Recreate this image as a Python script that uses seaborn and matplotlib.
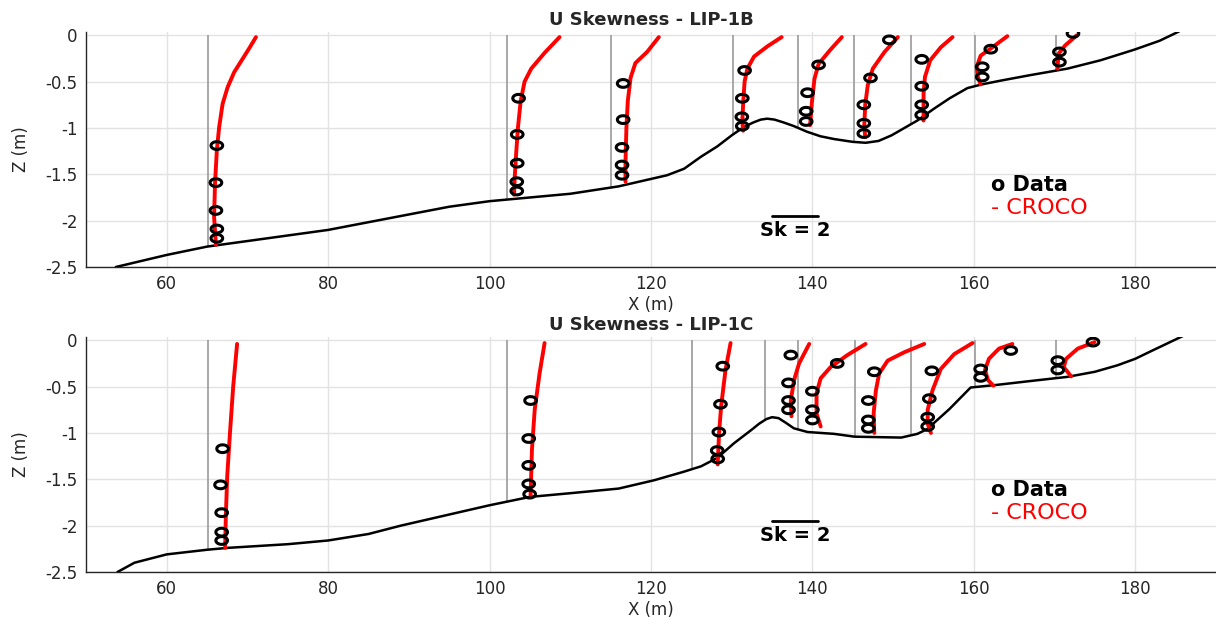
import numpy as np
import pandas as pd
import matplotlib
matplotlib.use("Agg")
import matplotlib.pyplot as plt
from matplotlib.path import Path
from matplotlib.markers import MarkerStyle
import seaborn as sns

# metres of cross-shore distance per unit of skewness (scale bar: Sk = 2)
SK_SCALE = 2.85

x_ticks = [60, 80, 100, 120, 140, 160, 180]
y_ticks = [-2.5, -2, -1.5, -1, -0.5, 0]
y_tick_labels = ["-2.5", "-2", "-1.5", "-1", "-0.5", "0"]

# ---- LIP-1B ----
bed_x_1b = [53.7, 60, 65, 70, 80, 89, 95, 100, 110, 116, 120, 122, 124.1, 126.2, 128.2,
            130, 131.5, 132.7, 133.6, 134.4, 135.3, 136.4, 137.7, 139.3, 141, 142.7, 145,
            146.6, 148.2, 149.8, 151, 153, 155.1, 157, 159.2, 161, 163.3, 167, 171.6,
            175.7, 179.9, 183, 185.4]
bed_z_1b = [-2.50, -2.37, -2.28, -2.22, -2.10, -1.95, -1.85, -1.79, -1.71, -1.63, -1.55,
            -1.51, -1.44, -1.31, -1.20, -1.08, -0.99, -0.94, -0.91, -0.90, -0.91, -0.94,
            -0.98, -1.04, -1.09, -1.12, -1.15, -1.16, -1.14, -1.08, -1.02, -0.92, -0.79,
            -0.68, -0.57, -0.53, -0.49, -0.43, -0.36, -0.27, -0.155, -0.06, 0.04]
stations_1b = [65.1, 102.2, 115.1, 130.2, 138.2, 145.2, 152.2, 160.1, 170.2]
model_z_1b = [
    [-0.02, -0.14, -0.40, -0.56, -0.74, -0.99, -1.24, -1.60, -1.96, -2.26],
    [-0.02, -0.19, -0.36, -0.50, -0.71, -1.00, -1.29, -1.54, -1.72],
    [-0.02, -0.18, -0.30, -0.46, -0.71, -1.00, -1.36, -1.58],
    [-0.02, -0.12, -0.23, -0.36, -0.50, -0.72, -0.93, -1.03],
    [-0.02, -0.16, -0.31, -0.47, -0.72, -0.97],
    [-0.02, -0.18, -0.36, -0.54, -0.75, -0.97, -1.10],
    [-0.02, -0.13, -0.27, -0.45, -0.63, -0.92],
    [-0.01, -0.13, -0.22, -0.34, -0.45, -0.53],
    [0.0, -0.11, -0.20, -0.36],
]
model_sk_1b = [
    [2.09, 1.80, 1.14, 0.86, 0.64, 0.49, 0.39, 0.31, 0.27, 0.35],
    [2.27, 1.62, 1.04, 0.75, 0.58, 0.46, 0.38, 0.32, 0.29],
    [2.06, 1.55, 1.04, 0.83, 0.71, 0.65, 0.61, 0.61],
    [2.10, 1.48, 0.90, 0.61, 0.49, 0.43, 0.39, 0.43],
    [1.91, 1.40, 0.90, 0.72, 0.61, 0.53],
    [1.89, 1.31, 0.80, 0.58, 0.47, 0.43, 0.47],
    [1.81, 1.30, 0.84, 0.61, 0.55, 0.55],
    [1.42, 0.77, 0.26, 0.09, 0.14, 0.26],
    [0.90, 0.39, 0.10, 0.06],
]
data_z_1b = [
    [-1.19, -1.59, -1.89, -2.09, -2.19],
    [-0.68, -1.07, -1.38, -1.58, -1.68],
    [-0.52, -0.91, -1.21, -1.40, -1.51],
    [-0.38, -0.68, -0.88, -0.98],
    [-0.32, -0.62, -0.82, -0.93],
    [-0.05, -0.46, -0.75, -0.95, -1.06],
    [-0.26, -0.55, -0.75, -0.86],
    [-0.15, -0.34, -0.45],
    [0.02, -0.18, -0.29],
]
data_sk_1b = [
    [0.39, 0.35, 0.35, 0.39, 0.39],
    [0.49, 0.43, 0.43, 0.41, 0.41],
    [0.51, 0.51, 0.46, 0.46, 0.46],
    [0.49, 0.39, 0.37, 0.39],
    [0.90, 0.42, 0.36, 0.36],
    [1.52, 0.70, 0.41, 0.41, 0.41],
    [0.47, 0.47, 0.47, 0.47],
    [0.70, 0.33, 0.33],
    [0.73, 0.14, 0.14],
]

# ---- LIP-1C ----
bed_x_1c = [53.9, 56, 60, 65, 67.5, 75, 80, 85, 89, 95, 100, 105, 110, 116, 120.4, 124,
            126.2, 128.2, 130.3, 132.4, 133.4, 134.3, 135, 135.8, 136.7, 137.7, 139.4,
            142.7, 145.2, 151, 153, 154.2, 157, 159.6, 163, 167, 171.6, 175, 177.8, 180,
            181.9, 186]
bed_z_1c = [-2.50, -2.40, -2.31, -2.26, -2.24, -2.20, -2.16, -2.09, -2.00, -1.88, -1.78,
            -1.69, -1.65, -1.60, -1.51, -1.42, -1.36, -1.27, -1.11, -0.97, -0.90, -0.85,
            -0.83, -0.84, -0.89, -0.95, -0.99, -1.01, -1.04, -1.05, -1.01, -0.96, -0.74,
            -0.51, -0.48, -0.44, -0.395, -0.34, -0.27, -0.20, -0.12, 0.05]
stations_1c = [65.1, 102.2, 125.1, 134.1, 138.2, 145.3, 152.2, 160.1, 170.2]
model_z_1c = [
    [-0.04, -0.50, -1.00, -1.47, -1.90, -2.24],
    [-0.03, -0.36, -0.75, -1.18, -1.68],
    [-0.03, -0.32, -0.71, -1.00, -1.34],
    [-0.04, -0.25, -0.43, -0.65, -0.82],
    [-0.04, -0.16, -0.29, -0.41, -0.57, -0.79, -0.93],
    [-0.04, -0.13, -0.22, -0.36, -0.54, -0.79, -1.00],
    [-0.03, -0.15, -0.31, -0.54, -0.75, -0.90, -1.00],
    [-0.04, -0.09, -0.20, -0.32, -0.43, -0.49],
    [-0.02, -0.09, -0.20, -0.29, -0.39],
]
model_sk_1c = [
    [1.27, 1.10, 0.96, 0.84, 0.78, 0.75],
    [1.62, 1.40, 1.19, 1.07, 1.01],
    [1.67, 1.45, 1.26, 1.17, 1.11],
    [1.93, 1.49, 1.27, 1.13, 1.16],
    [2.94, 2.15, 1.42, 0.99, 0.81, 0.81, 0.99],
    [3.00, 2.13, 1.41, 1.04, 0.90, 0.80, 0.83],
    [2.68, 1.88, 1.30, 0.94, 0.73, 0.73, 0.87],
    [1.64, 1.06, 0.62, 0.45, 0.58, 0.81],
    [1.67, 0.94, 0.43, 0.33, 0.65],
]
data_z_1c = [
    [-1.17, -1.56, -1.86, -2.07, -2.16],
    [-0.65, -1.06, -1.35, -1.55, -1.66],
    [-0.28, -0.69, -0.99, -1.19, -1.28],
    [-0.16, -0.46, -0.65, -0.75],
    [-0.25, -0.55, -0.75, -0.86],
    [-0.34, -0.65, -0.86, -0.95],
    [-0.33, -0.63, -0.83, -0.93],
    [-0.11, -0.31, -0.40],
    [-0.02, -0.22, -0.32],
]
data_sk_1c = [
    [0.64, 0.55, 0.60, 0.60, 0.60],
    [1.01, 0.93, 0.93, 0.93, 0.97],
    [1.33, 1.23, 1.16, 1.09, 1.11],
    [1.13, 1.03, 1.03, 1.03],
    [1.71, 0.63, 0.63, 0.63],
    [0.83, 0.57, 0.57, 0.57],
    [0.91, 0.80, 0.73, 0.73],
    [1.57, 0.26, 0.26],
    [1.60, 0.07, 0.07],
]


def profiles_frame(stations, zs, sks):
    rows = []
    for i, (x0, z, sk) in enumerate(zip(stations, zs, sks)):
        for zz, ss in zip(z, sk):
            rows.append({"station": i, "x": x0 + SK_SCALE * ss, "z": zz})
    return pd.DataFrame(rows)


# circles look stretched sideways in the original figure
t = np.linspace(0, 2 * np.pi, 60)
ellipse = MarkerStyle(Path(np.column_stack([1.5 * np.cos(t), np.sin(t)]), closed=True))


def plot_panel(ax, title, stations, bed_x, bed_z, mz, msk, dz, dsk):
    bed_at = np.interp(stations, bed_x, bed_z)
    ax.vlines(stations, bed_at, 0, color="#9a9a9a", lw=1.2, zorder=2)

    sns.lineplot(x=bed_x, y=bed_z, color="black", lw=1.8, sort=False,
                 estimator=None, ax=ax, zorder=3)

    df_mod = profiles_frame(stations, mz, msk)
    sns.lineplot(data=df_mod, x="x", y="z", units="station", estimator=None,
                 sort=False, color="red", lw=2.8, ax=ax, zorder=4)

    df_dat = profiles_frame(stations, dz, dsk)
    sns.scatterplot(data=df_dat, x="x", y="z", marker=ellipse, s=70,
                    facecolor="none", edgecolor="black", linewidth=2.2,
                    ax=ax, zorder=5)

    # scale bar
    ax.plot([135, 135 + 2 * SK_SCALE], [-1.95, -1.95], color="black", lw=2, zorder=4)
    ax.text(135 + SK_SCALE, -2.11, "Sk = 2", ha="center", va="center",
            fontsize=14, fontweight="bold", color="black")

    ax.text(162.1, -1.62, "o Data", ha="left", va="center", fontsize=15,
            fontweight="bold", color="black")
    ax.text(162.1, -1.86, "- CROCO", ha="left", va="center", fontsize=16,
            color="red")

    ax.set_xlim(50, 190)
    ax.set_ylim(-2.5, 0.035)
    ax.set_xticks(x_ticks)
    ax.set_yticks(y_ticks)
    ax.set_yticklabels(y_tick_labels)
    ax.grid(True, color="#e2e2e2", lw=1)
    ax.set_axisbelow(True)
    ax.tick_params(direction="in", length=8, width=1, colors="#262626",
                   labelsize=12, pad=6)
    for side in ["top", "right"]:
        ax.spines[side].set_visible(False)
    for side in ["left", "bottom"]:
        ax.spines[side].set_color("#262626")
        ax.spines[side].set_linewidth(1)
    ax.set_xlabel("X (m)", fontsize=12, color="#262626")
    ax.set_ylabel("Z (m)", fontsize=12, color="#262626")
    ax.xaxis.set_label_coords(0.5, -0.125)
    ax.yaxis.set_label_coords(-0.05, 0.5)
    ax.set_title(title, fontsize=13, fontweight="bold", pad=5)


sns.set_style("white")
plt.rcParams["font.family"] = ["DejaVu Sans"]

fig = plt.figure(figsize=(12.16, 6.2), dpi=100)
ax1 = fig.add_axes([86 / 1216, 1 - 267 / 620, 1130 / 1216, 235 / 620])
ax2 = fig.add_axes([86 / 1216, 1 - 572 / 620, 1130 / 1216, 235 / 620])

plot_panel(ax1, "U Skewness - LIP-1B", stations_1b, bed_x_1b, bed_z_1b,
           model_z_1b, model_sk_1b, data_z_1b, data_sk_1b)
plot_panel(ax2, "U Skewness - LIP-1C", stations_1c, bed_x_1c, bed_z_1c,
           model_z_1c, model_sk_1c, data_z_1c, data_sk_1c)

fig.savefig("out.png", dpi=100)
